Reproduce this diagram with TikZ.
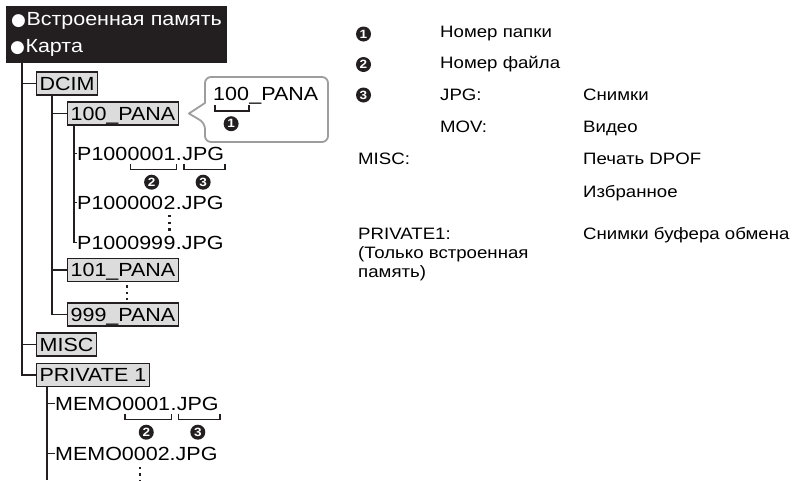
\documentclass[tikz,border=0pt]{standalone}
\usepackage{fontspec}
\setmainfont[FakeStretch=1.13]{Liberation Sans}
\newfontfamily\symfont{DejaVu Sans}
\usetikzlibrary{positioning,calc}
\definecolor{clInk}{HTML}{231F20}
\definecolor{clFolder}{HTML}{DCDCDC}
\definecolor{clBubble}{HTML}{9D9D9D}
\newcommand\treefont{\fontsize{19}{22}\selectfont}
\newcommand\legfont{\fontsize{16.5}{19}\selectfont}
\newcommand\blackdot{{\symfont\fontsize{17}{26}\selectfont\kern1pt●\kern0.5pt}}
\tikzset{
  header/.style={rectangle, fill=clInk, text=white, align=left, inner sep=0pt,
                 text width=213pt, minimum width=221pt, minimum height=57pt,
                 font=\fontsize{19}{26}\selectfont},
  folder/.style={rectangle, draw=clInk, line width=1.3pt, fill=clFolder,
                 inner xsep=3pt, inner ysep=0pt, minimum height=23pt,
                 text height=13.6pt, text depth=0pt, font=\treefont, anchor=west},
  fname/.style={inner sep=0pt, text height=13.6pt, text depth=0pt,
                font=\treefont, anchor=west},
  fpart/.style={fname, right=0pt of #1},
  tree/.style={draw=clInk, line width=1.3pt},
  bracket/.style={draw=clInk, line width=1.5pt},
  vdots/.style={draw=clInk, line width=2.6pt, dash pattern=on 2.4pt off 4.2pt},
  numdot/.style={circle, fill=clInk, text=white, inner sep=0pt, minimum size=15pt,
                 font=\fontsize{12}{12}\selectfont\bfseries},
  legend/.style={inner sep=0pt, anchor=base west, font=\legfont},
  bubble/.style={draw=clBubble, line width=1.8pt, line join=round},
}

\begin{document}
\begin{tikzpicture}[x=1pt, y=-1pt]
  \useasboundingbox (0,0) rectangle (792,480);
  % storage header
  \node[header, anchor=north west] (media) at (6,6) {\blackdot Встроенная память\\\blackdot Карта};
  \coordinate (root) at (22,63);
  % folders
  \node[folder] (dcim) at (36,83.5) {DCIM};
  \node[folder] (b100) at (67,113.5) {100\_PANA};
  \node[folder] (b101) at (67,270) {101\_PANA};
  \node[folder] (b999) at (67,314.5) {999\_PANA};
  \node[folder] (misc) at (36,344.5) {MISC};
  \node[folder] (priv) at (36,375) {PRIVATE 1};
  % files
  \node[fname] (p1a) at (77,153.5) {P100};
  \node[fpart=p1a] (p1b) {0001};
  \node[fpart=p1b] (p1c) {.};
  \node[fpart=p1c] (p1d) {JPG};
  \node[fname] (p2a) at (77,202.5) {P100000};
  \node[fpart=p2a] (p2b) {2};
  \node[fpart=p2b] (p2c) {.JPG};
  \node[fname] (p3a) at (77,242.5) {P100099};
  \node[fpart=p3a] (p3b) {9};
  \node[fpart=p3b] (p3c) {.JPG};
  \node[fname] (m1a) at (55,403.5) {MEMO};
  \node[fpart=m1a] (m1b) {0001};
  \node[fpart=m1b] (m1c) {.};
  \node[fpart=m1c] (m1d) {JPG};
  \node[fname] (m2a) at (55,453.5) {MEMO0002.JPG};
  % brackets under the names
  \draw[bracket] ([shift={(3pt,-3pt)}]p1b.south west) -- ++(0,6) -| ([shift={(1pt,-3pt)}]p1b.south east);
  \draw[bracket] ([shift={(2pt,-3pt)}]p1d.south west) -- ++(0,6) -| ([shift={(1pt,-3pt)}]p1d.south east);
  \node[numdot, below=14pt of p1b] (p1n) {2};
  \node[numdot, below=14pt of p1d] (p1m) {3};
  \draw[bracket] ([shift={(3pt,-3pt)}]m1b.south west) -- ++(0,6) -| ([shift={(1pt,-3pt)}]m1b.south east);
  \draw[bracket] ([shift={(2pt,-3pt)}]m1d.south west) -- ++(0,6) -| ([shift={(1pt,-3pt)}]m1d.south east);
  \node[numdot, below=14pt of m1b] (m1n) {2};
  \node[numdot, below=14pt of m1d] (m1m) {3};
  % tree lines
  \draw[tree] (root) |- (priv.west);
  \draw[tree] (root |- dcim.west) -- (dcim.west);
  \draw[tree] (root |- misc.west) -- (misc.west);
  \coordinate (dstem) at ([xshift=16pt]dcim.south west);
  \draw[tree] (dstem) |- (b999.west);
  \draw[tree] (dstem |- b100.west) -- (b100.west);
  \draw[tree] (dstem |- b101.west) -- (b101.west);
  \coordinate (pstem) at ([xshift=7pt]b100.south west);
  \draw[tree] (pstem) |- (p3a.west);
  \draw[tree] (pstem |- p1a.west) -- (p1a.west);
  \draw[tree] (pstem |- p2a.west) -- (p2a.west);
  \coordinate (mstem) at ([xshift=11pt]priv.south west);
  \coordinate (mend) at (mstem |- 0,480);
  \draw[tree] (mstem) -- (mend);
  \draw[tree] (mstem |- m1a.west) -- (m1a.west);
  \draw[tree] (mstem |- m2a.west) -- (m2a.west);
  % more to follow
  \draw[vdots, shorten >=2pt] ([yshift=-5.5pt]p2b.south) -- (p3b.north);
  \draw[vdots, shorten >=2pt] ([xshift=4pt, yshift=-3pt]b101.south) -- ([xshift=4pt]b999.north);
  \draw[vdots] ([xshift=85pt, yshift=-6pt]m2a.south west) -- ++(0,20);
  % callout on 100_PANA
  \coordinate (tip) at ([xshift=10pt]b100.east);
  \draw[bubble] (205,103) [rounded corners=6pt] -- (205,77) -- (328,77) -- (328,142) -- (205,142) -- (205,123) [sharp corners] -- (tip) -- cycle;
  \node[fname] (c1a) at (213,94) {100};
  \node[fpart=c1a] (c1b) {\_PANA};
  \draw[bracket] ([shift={(2pt,-4pt)}]c1a.south west) -- ++(0,6) -| ([shift={(0pt,-4pt)}]c1a.south east);
  \node[numdot, below=15pt of c1a] (c1n) {1};
  % legend
  \node[numdot] (k1) at (363.5,34) {1};
  \node[legend] (k1t) at (440,37) {Номер папки};
  \node[numdot] (k2) at (363.5,64.5) {2};
  \node[legend] (k2t) at (440,68) {Номер файла};
  \node[numdot] (k3) at (363.5,95) {3};
  \node[legend] (k3t) at (440,100) {JPG:};
  \node[legend] (k3u) at (583,100) {Снимки};
  \node[legend] (k4t) at (440,132) {MOV:};
  \node[legend] (k4u) at (583,132) {Видео};
  \node[legend] (k5t) at (358,164) {MISC:};
  \node[legend] (k5u) at (583,164) {Печать DPOF};
  \node[legend] (k6u) at (583,197) {Избранное};
  \node[legend, anchor=north west, align=left] (k7t) at (358,227.5) {PRIVATE1:\\(Только встроенная\\память)};
  \node[legend] (k7u) at (583,239) {Снимки буфера обмена};
\end{tikzpicture}
\end{document}
